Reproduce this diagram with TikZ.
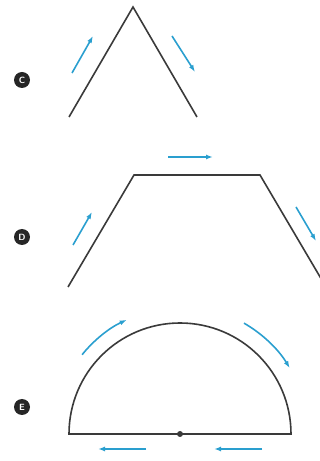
\documentclass[tikz,border=0pt]{standalone}
\definecolor{ArrowBlue}{HTML}{2A9FCF}
\definecolor{LineGray}{HTML}{3A3A3A}
\usepackage{tikz}
\usetikzlibrary{arrows.meta,positioning,calc}

\begin{document}
\begin{tikzpicture}[x=1pt,y=1pt,
    path/.style={line width=1.6pt,LineGray,line join=miter},
    motion/.style={line width=1.6pt,ArrowBlue,-{Latex[length=7pt,width=5pt]}},
    tag/.style={circle,fill=black!85,text=white,inner sep=0pt,minimum size=16pt,
      font=\sffamily\bfseries\small}]
      \useasboundingbox (0,0) rectangle (320,461);
      % C: roof shape
      \coordinate (c1) at (69,344);
      \coordinate (c2) at (133,454);
      \coordinate (c3) at (197,344);
      \draw[path] (c1)--(c2)--(c3);
      \node[tag] (tagC) at (22,381) {C};
      \draw[motion] (72,388)--(93,425);
      \draw[motion] (172,425)--(195,389);
      % D: trapezoid
      \coordinate (d1) at (68,174);
      \coordinate (d2) at (134,286);
      \coordinate (d3) at (260,286);
      \coordinate (d4) at (326,174);
      \draw[path] (d1)--(d2)--(d3)--(d4);
      \node[tag] (tagD) at (22,224) {D};
      \draw[motion] (168,304)--(213,304);
      \draw[motion] (73,216)--(92,249);
      \draw[motion] (296,254)--(316,220);
      % E: half circle
      \coordinate (ec) at (180,27);
      \draw[path] (69,27) arc[start angle=180,end angle=0,radius=111]--cycle;
      \fill[LineGray] (ec) circle (3pt);
      \node[tag] (tagE) at (22,54) {E};
      \draw[motion] ($(ec)+(141:126)$) arc[start angle=141,end angle=115,radius=126];
      \draw[motion] ($(ec)+(60:128)$) arc[start angle=60,end angle=31,radius=128];
      \draw[motion] (146,12)--(98,12);
      \draw[motion] (262,12)--(214,12);
    \end{tikzpicture}
\end{document}
